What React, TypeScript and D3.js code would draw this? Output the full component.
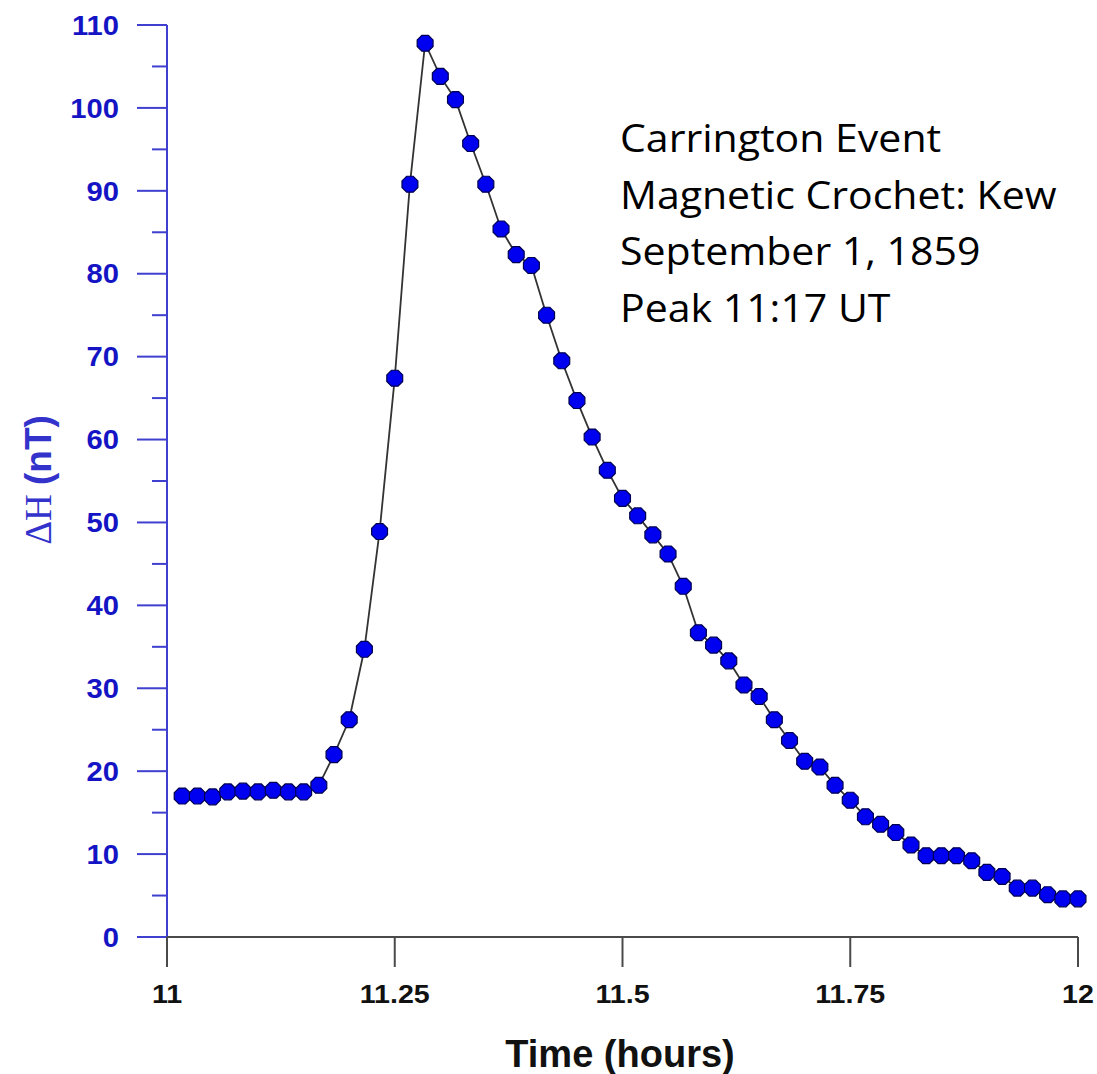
import React from "react";
import * as d3 from "d3";

const minutes = [1,2,3,4,5,6,7,8,9,10,11,12,13,14,15,16,17,18,19,20,21,22,23,24,25,26,27,28,29,30,31,32,33,34,35,36,37,38,39,40,41,42,43,44,45,46,47,48,49,50,51,52,53,54,55,56,57,58,59,60];
const deltaH = [17.0,17.0,16.9,17.5,17.6,17.5,17.7,17.5,17.5,18.3,22.0,26.2,34.7,48.9,67.4,90.8,107.8,103.8,101.0,95.7,90.8,85.4,82.3,81.0,75.0,69.5,64.7,60.3,56.3,52.9,50.8,48.5,46.2,42.3,36.7,35.2,33.3,30.4,29.0,26.2,23.7,21.2,20.5,18.3,16.5,14.5,13.6,12.6,11.1,9.8,9.8,9.8,9.2,7.8,7.3,5.9,5.9,5.1,4.6,4.6];
const xTicks = [11, 11.25, 11.5, 11.75, 12];
const xTickLabels = ["11", "11.25", "11.5", "11.75", "12"];
const yMajorTicks = [0,10,20,30,40,50,60,70,80,90,100,110];
const yMinorTicks = [5,15,25,35,45,55,65,75,85,95,105];
const noteLines = ["Carrington Event", "Magnetic Crochet: Kew", "September 1, 1859", "Peak 11:17 UT"];

const W = 1097, H = 1074;

export default function App() {
  const x = d3.scaleLinear().domain([11, 12]).range([167, 1078]);
  const y = d3.scaleLinear().domain([0, 110]).range([937, 25]);
  const pts = minutes.map((m, i) => ({ t: 11 + m / 60, v: deltaH[i] }));
  const line = d3.line<any>().x(d => x(d.t)).y(d => y(d.v));
  const r = 8.6;
  const oct = d3.range(8).map(k => {
    const a = (Math.PI / 8) + k * Math.PI / 4;
    return [r * Math.cos(a), r * Math.sin(a)];
  });
  const octPath = "M" + oct.map(p => p.join(",")).join("L") + "Z";
  const axisBlue = "#3f3fd0";
  const labelBlue = "#1414c4";
  const sans = "'Liberation Sans', Arial, sans-serif";
  return (
    <svg width={W} height={H} style={{ position: "absolute", left: 0, top: 0, background: "#fff" }}>
      {/* Y axis */}
      <line x1={x(11)} x2={x(11)} y1={y(110)} y2={y(0)} stroke={axisBlue} strokeWidth={2} />
      {yMajorTicks.map(t => (
        <g key={"ym" + t}>
          <line x1={x(11) - 30} x2={x(11)} y1={y(t)} y2={y(t)} stroke={axisBlue} strokeWidth={2} />
          <text transform={`translate(119,${y(t)}) scale(1.08,1)`} dy="0.36em" textAnchor="end" fill={labelBlue}
            fontFamily={sans} fontWeight="bold" fontSize={27}>{t}</text>
        </g>
      ))}
      {yMinorTicks.map(t => (
        <line key={"yn" + t} x1={x(11) - 15} x2={x(11)} y1={y(t)} y2={y(t)} stroke={axisBlue} strokeWidth={2} />
      ))}
      {/* X axis */}
      <line x1={x(11)} x2={x(12)} y1={y(0)} y2={y(0)} stroke="#4a4a4a" strokeWidth={2} />
      {xTicks.map((t, i) => (
        <g key={"xt" + t}>
          <line x1={x(t)} x2={x(t)} y1={y(0)} y2={y(0) + 30} stroke="#4a4a4a" strokeWidth={2} />
          <text transform={`translate(${x(t)},1003) scale(1.1,1)`} textAnchor="middle" fill="#111"
            fontFamily={sans} fontWeight="bold" fontSize={26}>{xTickLabels[i]}</text>
        </g>
      ))}
      <text x={620} y={1067} textAnchor="middle" fill="#111" fontFamily={sans} fontWeight="bold" fontSize={38}>Time (hours)</text>
      {/* Y title */}
      <text transform="translate(51,480) rotate(-90)" textAnchor="middle" fill="#3333cc" fontSize={37}>
        <tspan fontFamily="'Liberation Serif', 'Times New Roman', serif">ΔH </tspan>
        <tspan fontFamily={sans} fontWeight="bold">(nT)</tspan>
      </text>
      {/* data */}
      <path d={line(pts) || ""} fill="none" stroke="#333" strokeWidth={1.8} />
      {pts.map((p, i) => (
        <path key={"p" + i} d={octPath} transform={`translate(${x(p.t)},${y(p.v)})`}
          fill="#0000f0" stroke="#000050" strokeWidth={1.2} />
      ))}
      {/* note */}
      {noteLines.map((s, i) => (
        <text key={"n" + i} transform={`translate(620,${152 + i * 56.7}) scale(1.08,1)`} fill="#000"
          fontFamily="'Open Sans', sans-serif" fontSize={38}>{s}</text>
      ))}
    </svg>
  );
}
